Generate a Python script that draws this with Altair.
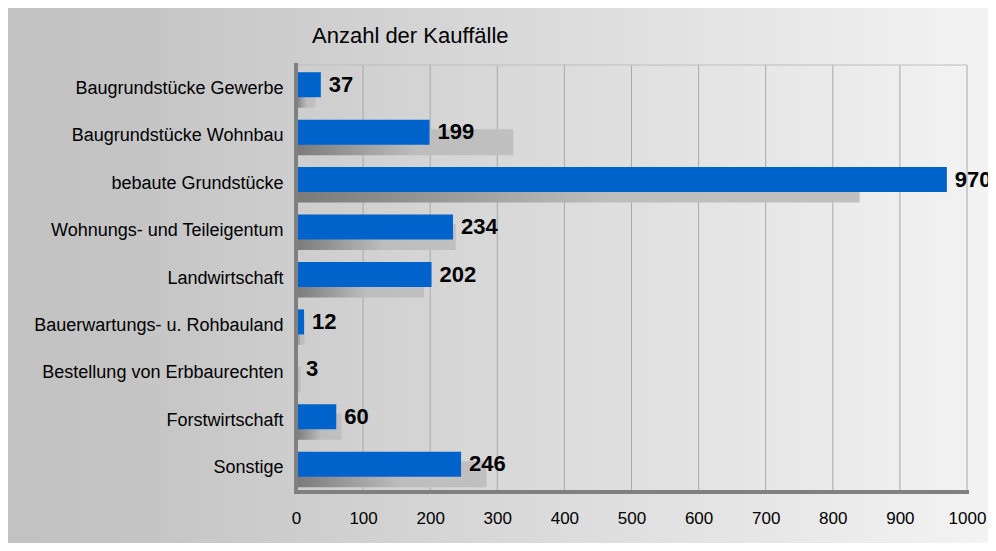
import altair as alt
import pandas as pd

categories = [
    "Baugrundstücke Gewerbe",
    "Baugrundstücke Wohnbau",
    "bebaute Grundstücke",
    "Wohnungs- und Teileigentum",
    "Landwirtschaft",
    "Bauerwartungs- u. Rohbauland",
    "Bestellung von Erbbaurechten",
    "Forstwirtschaft",
    "Sonstige",
]
current = [37, 199, 970, 234, 202, 12, 3, 60, 246]
previous = [29, 324, 840, 238, 191, 13, 7, 68, 284]
tick_values = [0, 100, 200, 300, 400, 500, 600, 700, 800, 900, 1000]
title_text = "Anzahl der Kauffälle"

W, H = 671, 427
PAD = {"left": 288, "top": 57, "right": 21, "bottom": 51}
FONT = "Liberation Sans"

df = pd.DataFrame({"cat": categories, "cur": current, "prev": previous})
ticks_df = pd.DataFrame({"t": tick_values})
one = pd.DataFrame({"k": [0]})

xscale = alt.Scale(domain=[0, 1000], nice=False, zero=True)
yscale = alt.Scale(type="band", paddingInner=0, paddingOuter=0)

x_axis = alt.Axis(
    values=tick_values, format="d", labelFlush=False,
    ticks=False, tickSize=0, domain=False, grid=False,
    labelFont=FONT, labelFontSize=17, labelColor="#000000", labelPadding=18,
    labelBaseline="top", labelOverlap=False, title="", zindex=2,
)
y_axis = alt.Axis(
    ticks=False, tickSize=0, domain=False, grid=False,
    labelFont=FONT, labelFontSize=18, labelColor="#000000", labelPadding=13,
    labelLimit=500, title="", zindex=2,
)

bg = alt.Chart(one).mark_rect(
    color=alt.LinearGradient(
        gradient="linear",
        stops=[
            alt.GradientStop(offset=0, color="#c2c2c2"),
            alt.GradientStop(offset=0.12, color="#c4c4c4"),
            alt.GradientStop(offset=1, color="#f3f3f3"),
        ],
        x1=0, x2=1, y1=0, y2=0,
    )
).encode(
    x=alt.value(-PAD["left"]), x2=alt.value(W + PAD["right"]),
    y=alt.value(-PAD["top"]), y2=alt.value(H + PAD["bottom"]),
)

grid = alt.Chart(ticks_df).mark_rule(color="#a8a8a8", strokeWidth=1).encode(
    x=alt.X("t:Q", scale=xscale, axis=x_axis),
    y=alt.value(0), y2=alt.value(H),
)

top_line = alt.Chart(one).mark_rule(color="#bdbdbd", strokeWidth=1).encode(
    x=alt.value(0), x2=alt.value(W), y=alt.value(0)
)

gray = alt.Chart(df).mark_bar(
    height=26, yOffset=6,
    color=alt.LinearGradient(
        gradient="linear",
        stops=[
            alt.GradientStop(offset=0, color="#7a7a7a"),
            alt.GradientStop(offset=0.55, color="#bdbdbd"),
            alt.GradientStop(offset=1, color="#c0c0c0"),
        ],
        x1=0, x2=1, y1=0, y2=0,
    ),
).encode(
    x=alt.X("prev:Q", scale=xscale, axis=x_axis),
    y=alt.Y("cat:N", sort=categories, scale=yscale, axis=y_axis),
)

blue = alt.Chart(df).mark_bar(height=25, yOffset=-4, color="#0063cc").encode(
    x=alt.X("cur:Q", scale=xscale, axis=x_axis),
    y=alt.Y("cat:N", sort=categories, scale=yscale, axis=y_axis),
)

labels = alt.Chart(df).mark_text(
    align="left", baseline="middle", dx=8, dy=-4,
    font=FONT, fontSize=22, fontWeight="bold", color="#000000",
).encode(
    x=alt.X("cur:Q", scale=xscale, axis=x_axis),
    y=alt.Y("cat:N", sort=categories, scale=yscale, axis=y_axis),
    text=alt.Text("cur:Q"),
)

left_line = alt.Chart(one).mark_rule(color="#808080", strokeWidth=4).encode(
    x=alt.value(0), y=alt.value(-2), y2=alt.value(H + 2)
)
bottom_line = alt.Chart(one).mark_rule(color="#808080", strokeWidth=4).encode(
    x=alt.value(-2), x2=alt.value(W + 2), y=alt.value(H)
)

title = alt.Chart(pd.DataFrame({"t": [title_text]})).mark_text(
    align="left", baseline="middle", font=FONT, fontSize=22, color="#000000"
).encode(
    x=alt.value(16), y=alt.value(-29), text="t:N"
)

chart = alt.layer(
    bg, grid, top_line, gray, blue, labels, left_line, bottom_line, title
).properties(
    width=W, height=H,
    padding=PAD,
    autosize=alt.AutoSizeParams(type="none"),
    background="#ffffff",
).configure_view(strokeWidth=0)

chart.save("out.html", embed_options={"renderer": "svg", "actions": False})
